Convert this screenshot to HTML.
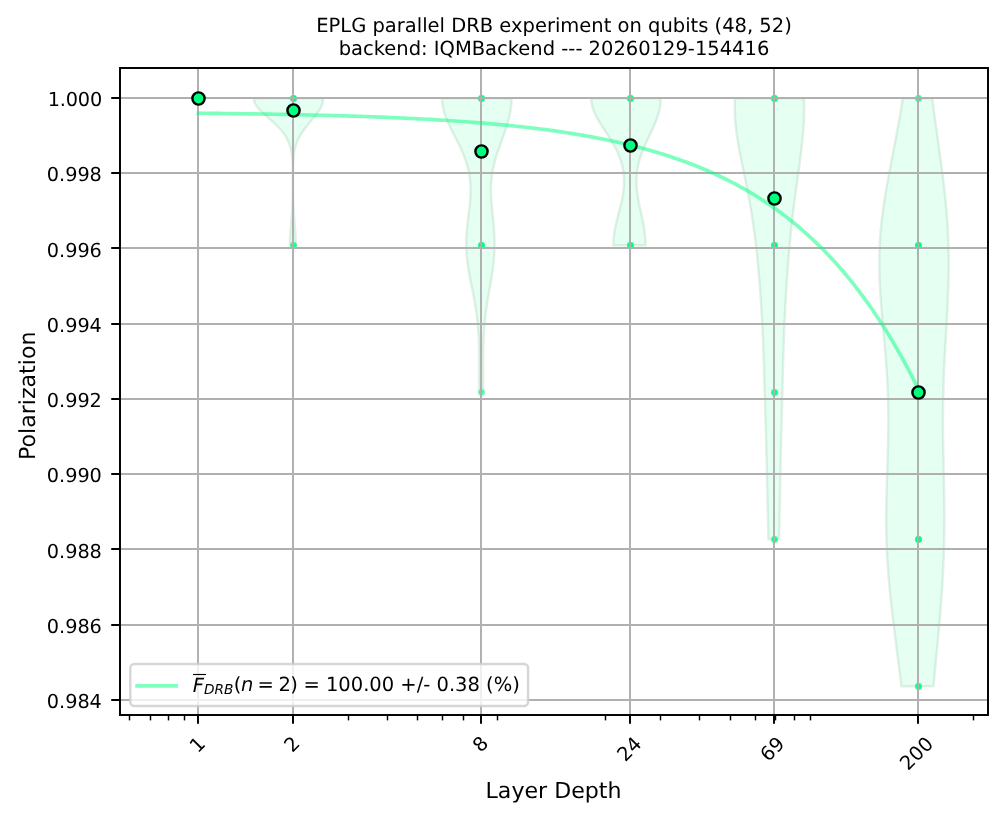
<!DOCTYPE html>
<html lang="en"><head><meta charset="utf-8"><title>EPLG parallel DRB experiment</title>
<style>html,body{margin:0;padding:0;background:#fff}svg{display:block}</style></head>
<body>
<svg width="1005" height="819" viewBox="0 0 1005 819" font-family='"DejaVu Sans", "Liberation Sans", sans-serif' font-size="19.5px" fill="#000" text-rendering="geometricPrecision" style="will-change:transform">
<rect x="0" y="0" width="1005" height="819" fill="#fff"/>
<defs><clipPath id="ax"><rect x="120.0" y="68.0" width="868.0" height="647.0"/></clipPath></defs>
<g clip-path="url(#ax)">
<path d="M253.79,98.30 L253.90,99.78 L254.23,101.27 L254.76,102.75 L255.50,104.24 L256.42,105.72 L257.51,107.21 L258.75,108.69 L260.12,110.18 L261.60,111.66 L263.16,113.15 L264.79,114.63 L266.46,116.12 L268.16,117.60 L269.86,119.09 L271.54,120.57 L273.19,122.06 L274.80,123.54 L276.36,125.03 L277.85,126.51 L279.27,128.00 L280.61,129.48 L281.86,130.97 L283.04,132.45 L284.13,133.94 L285.13,135.42 L286.05,136.91 L286.88,138.39 L287.64,139.88 L288.32,141.36 L288.93,142.85 L289.48,144.33 L289.96,145.82 L290.39,147.30 L290.76,148.78 L291.09,150.27 L291.37,151.75 L291.61,153.24 L291.82,154.72 L292.00,156.21 L292.15,157.69 L292.28,159.18 L292.38,160.66 L292.47,162.15 L292.55,163.63 L292.61,165.12 L292.66,166.60 L292.70,168.09 L292.73,169.57 L292.76,171.06 L292.78,172.54 L292.79,174.03 L292.80,175.51 L292.81,177.00 L292.81,178.48 L292.82,179.97 L292.82,181.45 L292.81,182.94 L292.81,184.42 L292.80,185.91 L292.79,187.39 L292.77,188.88 L292.76,190.36 L292.73,191.85 L292.71,193.33 L292.68,194.82 L292.65,196.30 L292.62,197.78 L292.58,199.27 L292.53,200.75 L292.48,202.24 L292.42,203.72 L292.36,205.21 L292.29,206.69 L292.21,208.18 L292.13,209.66 L292.04,211.15 L291.94,212.63 L291.84,214.12 L291.74,215.60 L291.63,217.09 L291.51,218.57 L291.39,220.06 L291.27,221.54 L291.14,223.03 L291.01,224.51 L290.89,226.00 L290.76,227.48 L290.64,228.97 L290.53,230.45 L290.42,231.94 L290.31,233.42 L290.22,234.91 L290.13,236.39 L290.06,237.88 L290.00,239.36 L289.95,240.85 L289.91,242.33 L289.89,243.82 L289.88,245.30 L295.79,245.30 L295.78,243.82 L295.76,242.33 L295.73,240.85 L295.68,239.36 L295.62,237.88 L295.55,236.39 L295.47,234.91 L295.37,233.42 L295.27,231.94 L295.17,230.45 L295.05,228.97 L294.94,227.48 L294.82,226.00 L294.70,224.51 L294.57,223.03 L294.45,221.54 L294.33,220.06 L294.21,218.57 L294.10,217.09 L293.99,215.60 L293.88,214.12 L293.78,212.63 L293.69,211.15 L293.60,209.66 L293.52,208.18 L293.44,206.69 L293.38,205.21 L293.31,203.72 L293.26,202.24 L293.20,200.75 L293.16,199.27 L293.12,197.78 L293.08,196.30 L293.05,194.82 L293.02,193.33 L293.00,191.85 L292.98,190.36 L292.96,188.88 L292.95,187.39 L292.94,185.91 L292.93,184.42 L292.92,182.94 L292.92,181.45 L292.92,179.97 L292.92,178.48 L292.92,177.00 L292.93,175.51 L292.94,174.03 L292.96,172.54 L292.98,171.06 L293.00,169.57 L293.04,168.09 L293.08,166.60 L293.13,165.12 L293.19,163.63 L293.26,162.15 L293.35,160.66 L293.46,159.18 L293.58,157.69 L293.73,156.21 L293.91,154.72 L294.11,153.24 L294.35,151.75 L294.63,150.27 L294.94,148.78 L295.30,147.30 L295.71,145.82 L296.17,144.33 L296.69,142.85 L297.26,141.36 L297.90,139.88 L298.60,138.39 L299.36,136.91 L300.19,135.42 L301.08,133.94 L302.03,132.45 L303.05,130.97 L304.11,129.48 L305.23,128.00 L306.39,126.51 L307.59,125.03 L308.81,123.54 L310.05,122.06 L311.30,120.57 L312.54,119.09 L313.76,117.60 L314.96,116.12 L316.12,114.63 L317.23,113.15 L318.27,111.66 L319.23,110.18 L320.11,108.69 L320.90,107.21 L321.58,105.72 L322.14,104.24 L322.59,102.75 L322.91,101.27 L323.11,99.78 L323.18,98.30 Z" fill="#00ff7f" fill-opacity="0.1" stroke="#55a268" stroke-opacity="0.16" stroke-width="2.44" stroke-linejoin="miter"/>
<path d="M442.09,98.30 L442.17,101.27 L442.46,104.24 L442.94,107.21 L443.61,110.18 L444.45,113.15 L445.44,116.12 L446.57,119.09 L447.83,122.06 L449.17,125.03 L450.60,128.00 L452.08,130.97 L453.59,133.94 L455.12,136.91 L456.64,139.88 L458.13,142.85 L459.58,145.82 L460.98,148.78 L462.31,151.75 L463.56,154.72 L464.72,157.69 L465.78,160.66 L466.74,163.63 L467.59,166.60 L468.34,169.57 L468.97,172.54 L469.50,175.51 L469.92,178.48 L470.24,181.45 L470.46,184.42 L470.58,187.39 L470.62,190.36 L470.57,193.33 L470.45,196.30 L470.27,199.27 L470.03,202.24 L469.74,205.21 L469.42,208.18 L469.07,211.15 L468.71,214.12 L468.34,217.09 L467.98,220.06 L467.63,223.03 L467.31,226.00 L467.02,228.97 L466.76,231.94 L466.56,234.91 L466.40,237.88 L466.31,240.85 L466.28,243.82 L466.31,246.78 L466.40,249.75 L466.56,252.72 L466.78,255.69 L467.06,258.66 L467.40,261.63 L467.79,264.60 L468.23,267.57 L468.72,270.54 L469.23,273.51 L469.78,276.48 L470.34,279.45 L470.93,282.42 L471.52,285.39 L472.11,288.36 L472.70,291.33 L473.28,294.30 L473.85,297.27 L474.39,300.24 L474.91,303.21 L475.41,306.18 L475.88,309.15 L476.31,312.12 L476.72,315.09 L477.09,318.06 L477.42,321.03 L477.72,324.00 L477.99,326.97 L478.22,329.94 L478.43,332.91 L478.60,335.88 L478.75,338.85 L478.87,341.82 L478.96,344.78 L479.04,347.75 L479.09,350.72 L479.13,353.69 L479.15,356.66 L479.16,359.63 L479.17,362.60 L479.16,365.57 L479.15,368.54 L479.14,371.51 L479.13,374.48 L479.11,377.45 L479.10,380.42 L479.09,383.39 L479.09,386.36 L479.09,389.33 L479.10,392.30 L483.19,392.30 L483.20,389.33 L483.20,386.36 L483.20,383.39 L483.19,380.42 L483.18,377.45 L483.17,374.48 L483.15,371.51 L483.14,368.54 L483.13,365.57 L483.13,362.60 L483.13,359.63 L483.14,356.66 L483.16,353.69 L483.20,350.72 L483.25,347.75 L483.33,344.78 L483.42,341.82 L483.53,338.85 L483.67,335.88 L483.84,332.91 L484.04,329.94 L484.26,326.97 L484.52,324.00 L484.80,321.03 L485.12,318.06 L485.47,315.09 L485.84,312.12 L486.25,309.15 L486.68,306.18 L487.13,303.21 L487.61,300.24 L488.10,297.27 L488.61,294.30 L489.13,291.33 L489.65,288.36 L490.17,285.39 L490.68,282.42 L491.18,279.45 L491.66,276.48 L492.13,273.51 L492.56,270.54 L492.96,267.57 L493.33,264.60 L493.65,261.63 L493.93,258.66 L494.16,255.69 L494.35,252.72 L494.47,249.75 L494.55,246.78 L494.58,243.82 L494.55,240.85 L494.47,237.88 L494.35,234.91 L494.18,231.94 L493.97,228.97 L493.73,226.00 L493.46,223.03 L493.17,220.06 L492.87,217.09 L492.56,214.12 L492.26,211.15 L491.97,208.18 L491.69,205.21 L491.45,202.24 L491.25,199.27 L491.09,196.30 L490.99,193.33 L490.95,190.36 L490.98,187.39 L491.08,184.42 L491.27,181.45 L491.54,178.48 L491.90,175.51 L492.34,172.54 L492.88,169.57 L493.50,166.60 L494.20,163.63 L494.98,160.66 L495.83,157.69 L496.74,154.72 L497.71,151.75 L498.73,148.78 L499.78,145.82 L500.85,142.85 L501.93,139.88 L503.01,136.91 L504.07,133.94 L505.10,130.97 L506.09,128.00 L507.03,125.03 L507.91,122.06 L508.70,119.09 L509.42,116.12 L510.03,113.15 L510.55,110.18 L510.95,107.21 L511.25,104.24 L511.42,101.27 L511.47,98.30 Z" fill="#00ff7f" fill-opacity="0.1" stroke="#55a268" stroke-opacity="0.16" stroke-width="2.44" stroke-linejoin="miter"/>
<path d="M591.31,98.30 L591.34,99.78 L591.45,101.27 L591.63,102.75 L591.89,104.24 L592.21,105.72 L592.60,107.21 L593.05,108.69 L593.57,110.18 L594.15,111.66 L594.78,113.15 L595.46,114.63 L596.20,116.12 L596.97,117.60 L597.79,119.09 L598.63,120.57 L599.51,122.06 L600.42,123.54 L601.34,125.03 L602.29,126.51 L603.24,128.00 L604.21,129.48 L605.18,130.97 L606.14,132.45 L607.11,133.94 L608.07,135.42 L609.02,136.91 L609.95,138.39 L610.87,139.88 L611.77,141.36 L612.65,142.85 L613.50,144.33 L614.33,145.82 L615.13,147.30 L615.90,148.78 L616.64,150.27 L617.35,151.75 L618.03,153.24 L618.67,154.72 L619.27,156.21 L619.84,157.69 L620.38,159.18 L620.87,160.66 L621.33,162.15 L621.76,163.63 L622.15,165.12 L622.50,166.60 L622.81,168.09 L623.09,169.57 L623.33,171.06 L623.54,172.54 L623.71,174.03 L623.85,175.51 L623.95,177.00 L624.02,178.48 L624.06,179.97 L624.07,181.45 L624.05,182.94 L623.99,184.42 L623.91,185.91 L623.80,187.39 L623.67,188.88 L623.50,190.36 L623.32,191.85 L623.10,193.33 L622.87,194.82 L622.62,196.30 L622.34,197.78 L622.05,199.27 L621.75,200.75 L621.42,202.24 L621.08,203.72 L620.74,205.21 L620.38,206.69 L620.01,208.18 L619.63,209.66 L619.25,211.15 L618.87,212.63 L618.49,214.12 L618.10,215.60 L617.72,217.09 L617.35,218.57 L616.98,220.06 L616.62,221.54 L616.27,223.03 L615.93,224.51 L615.60,226.00 L615.30,227.48 L615.01,228.97 L614.73,230.45 L614.48,231.94 L614.26,233.42 L614.05,234.91 L613.87,236.39 L613.72,237.88 L613.59,239.36 L613.50,240.85 L613.42,242.33 L613.38,243.82 L613.37,245.30 L645.50,245.30 L645.49,243.82 L645.45,242.33 L645.40,240.85 L645.32,239.36 L645.22,237.88 L645.10,236.39 L644.96,234.91 L644.79,233.42 L644.61,231.94 L644.41,230.45 L644.19,228.97 L643.96,227.48 L643.71,226.00 L643.44,224.51 L643.17,223.03 L642.88,221.54 L642.58,220.06 L642.27,218.57 L641.96,217.09 L641.64,215.60 L641.32,214.12 L640.99,212.63 L640.67,211.15 L640.34,209.66 L640.02,208.18 L639.70,206.69 L639.39,205.21 L639.08,203.72 L638.79,202.24 L638.50,200.75 L638.23,199.27 L637.97,197.78 L637.72,196.30 L637.50,194.82 L637.29,193.33 L637.10,191.85 L636.93,190.36 L636.78,188.88 L636.66,187.39 L636.56,185.91 L636.48,184.42 L636.43,182.94 L636.41,181.45 L636.42,179.97 L636.45,178.48 L636.52,177.00 L636.61,175.51 L636.74,174.03 L636.90,172.54 L637.08,171.06 L637.30,169.57 L637.55,168.09 L637.83,166.60 L638.15,165.12 L638.49,163.63 L638.86,162.15 L639.27,160.66 L639.70,159.18 L640.16,157.69 L640.65,156.21 L641.17,154.72 L641.71,153.24 L642.27,151.75 L642.86,150.27 L643.46,148.78 L644.09,147.30 L644.73,145.82 L645.39,144.33 L646.06,142.85 L646.75,141.36 L647.44,139.88 L648.14,138.39 L648.84,136.91 L649.54,135.42 L650.24,133.94 L650.94,132.45 L651.63,130.97 L652.32,129.48 L652.99,128.00 L653.65,126.51 L654.29,125.03 L654.91,123.54 L655.52,122.06 L656.10,120.57 L656.65,119.09 L657.17,117.60 L657.67,116.12 L658.13,114.63 L658.56,113.15 L658.96,111.66 L659.31,110.18 L659.63,108.69 L659.91,107.21 L660.15,105.72 L660.34,104.24 L660.49,102.75 L660.60,101.27 L660.67,99.78 L660.69,98.30 Z" fill="#00ff7f" fill-opacity="0.1" stroke="#55a268" stroke-opacity="0.16" stroke-width="2.44" stroke-linejoin="miter"/>
<path d="M735.00,98.30 L734.81,102.75 L734.75,107.21 L734.80,111.66 L734.97,116.12 L735.25,120.57 L735.64,125.03 L736.13,129.48 L736.70,133.94 L737.35,138.39 L738.07,142.85 L738.84,147.30 L739.67,151.75 L740.53,156.21 L741.42,160.66 L742.33,165.12 L743.25,169.57 L744.17,174.03 L745.09,178.48 L746.00,182.94 L746.89,187.39 L747.76,191.85 L748.61,196.30 L749.43,200.75 L750.22,205.21 L750.98,209.66 L751.71,214.12 L752.41,218.57 L753.08,223.03 L753.71,227.48 L754.32,231.94 L754.90,236.39 L755.45,240.85 L755.98,245.30 L756.48,249.75 L756.96,254.21 L757.42,258.66 L757.86,263.12 L758.28,267.57 L758.68,272.03 L759.07,276.48 L759.44,280.94 L759.79,285.39 L760.13,289.85 L760.46,294.30 L760.77,298.75 L761.06,303.21 L761.35,307.66 L761.62,312.12 L761.87,316.57 L762.12,321.03 L762.35,325.48 L762.57,329.94 L762.78,334.39 L762.97,338.85 L763.16,343.30 L763.33,347.75 L763.50,352.21 L763.66,356.66 L763.81,361.12 L763.96,365.57 L764.10,370.03 L764.23,374.48 L764.36,378.94 L764.49,383.39 L764.62,387.85 L764.74,392.30 L764.87,396.75 L764.99,401.21 L765.12,405.66 L765.24,410.12 L765.37,414.57 L765.49,419.03 L765.62,423.48 L765.74,427.94 L765.87,432.39 L765.99,436.85 L766.11,441.30 L766.23,445.75 L766.35,450.21 L766.47,454.66 L766.58,459.12 L766.69,463.57 L766.80,468.03 L766.91,472.48 L767.01,476.94 L767.11,481.39 L767.21,485.85 L767.31,490.30 L767.41,494.75 L767.50,499.21 L767.60,503.66 L767.69,508.12 L767.79,512.57 L767.89,517.03 L767.99,521.48 L768.09,525.94 L768.20,530.39 L768.31,534.85 L768.43,539.30 L779.01,539.30 L779.12,534.85 L779.22,530.39 L779.32,525.94 L779.41,521.48 L779.51,517.03 L779.60,512.57 L779.68,508.12 L779.77,503.66 L779.86,499.21 L779.95,494.75 L780.03,490.30 L780.12,485.85 L780.21,481.39 L780.30,476.94 L780.40,472.48 L780.49,468.03 L780.59,463.57 L780.69,459.12 L780.80,454.66 L780.90,450.21 L781.01,445.75 L781.11,441.30 L781.22,436.85 L781.33,432.39 L781.44,427.94 L781.56,423.48 L781.67,419.03 L781.78,414.57 L781.89,410.12 L782.00,405.66 L782.11,401.21 L782.22,396.75 L782.33,392.30 L782.44,387.85 L782.55,383.39 L782.66,378.94 L782.78,374.48 L782.90,370.03 L783.02,365.57 L783.14,361.12 L783.27,356.66 L783.41,352.21 L783.56,347.75 L783.71,343.30 L783.87,338.85 L784.03,334.39 L784.21,329.94 L784.40,325.48 L784.59,321.03 L784.80,316.57 L785.02,312.12 L785.24,307.66 L785.48,303.21 L785.73,298.75 L785.99,294.30 L786.26,289.85 L786.53,285.39 L786.83,280.94 L787.13,276.48 L787.44,272.03 L787.77,267.57 L788.10,263.12 L788.45,258.66 L788.82,254.21 L789.20,249.75 L789.59,245.30 L790.00,240.85 L790.43,236.39 L790.87,231.94 L791.33,227.48 L791.81,223.03 L792.31,218.57 L792.83,214.12 L793.37,209.66 L793.92,205.21 L794.49,200.75 L795.08,196.30 L795.67,191.85 L796.28,187.39 L796.90,182.94 L797.52,178.48 L798.14,174.03 L798.76,169.57 L799.37,165.12 L799.96,160.66 L800.54,156.21 L801.09,151.75 L801.61,147.30 L802.10,142.85 L802.54,138.39 L802.94,133.94 L803.29,129.48 L803.59,125.03 L803.82,120.57 L803.99,116.12 L804.10,111.66 L804.13,107.21 L804.09,102.75 L803.98,98.30 Z" fill="#00ff7f" fill-opacity="0.1" stroke="#55a268" stroke-opacity="0.16" stroke-width="2.44" stroke-linejoin="miter"/>
<path d="M902.88,98.30 L901.93,104.24 L900.94,110.18 L899.92,116.12 L898.88,122.06 L897.80,128.00 L896.70,133.94 L895.58,139.88 L894.45,145.82 L893.30,151.75 L892.15,157.69 L891.01,163.63 L889.87,169.57 L888.75,175.51 L887.66,181.45 L886.60,187.39 L885.59,193.33 L884.63,199.27 L883.73,205.21 L882.89,211.15 L882.13,217.09 L881.45,223.03 L880.86,228.97 L880.36,234.91 L879.96,240.85 L879.65,246.78 L879.44,252.72 L879.32,258.66 L879.29,264.60 L879.36,270.54 L879.50,276.48 L879.73,282.42 L880.03,288.36 L880.38,294.30 L880.80,300.24 L881.26,306.18 L881.75,312.12 L882.27,318.06 L882.81,324.00 L883.35,329.94 L883.90,335.88 L884.44,341.82 L884.96,347.75 L885.46,353.69 L885.93,359.63 L886.37,365.57 L886.77,371.51 L887.13,377.45 L887.44,383.39 L887.71,389.33 L887.93,395.27 L888.10,401.21 L888.23,407.15 L888.31,413.09 L888.34,419.03 L888.33,424.97 L888.28,430.91 L888.19,436.85 L888.08,442.78 L887.93,448.72 L887.77,454.66 L887.59,460.60 L887.39,466.54 L887.20,472.48 L887.00,478.42 L886.82,484.36 L886.65,490.30 L886.49,496.24 L886.37,502.18 L886.28,508.12 L886.22,514.06 L886.21,520.00 L886.24,525.94 L886.32,531.88 L886.45,537.82 L886.63,543.75 L886.87,549.69 L887.16,555.63 L887.50,561.57 L887.89,567.51 L888.33,573.45 L888.82,579.39 L889.35,585.33 L889.92,591.27 L890.52,597.21 L891.16,603.15 L891.82,609.09 L892.51,615.03 L893.22,620.97 L893.95,626.91 L894.69,632.85 L895.43,638.78 L896.19,644.72 L896.95,650.66 L897.71,656.60 L898.47,662.54 L899.23,668.48 L899.98,674.42 L900.73,680.36 L901.47,686.30 L933.39,686.30 L933.98,680.36 L934.56,674.42 L935.14,668.48 L935.72,662.54 L936.29,656.60 L936.86,650.66 L937.43,644.72 L937.98,638.78 L938.53,632.85 L939.06,626.91 L939.58,620.97 L940.08,615.03 L940.56,609.09 L941.02,603.15 L941.46,597.21 L941.88,591.27 L942.27,585.33 L942.62,579.39 L942.95,573.45 L943.24,567.51 L943.50,561.57 L943.73,555.63 L943.92,549.69 L944.07,543.75 L944.19,537.82 L944.28,531.88 L944.33,525.94 L944.35,520.00 L944.34,514.06 L944.31,508.12 L944.24,502.18 L944.16,496.24 L944.06,490.30 L943.95,484.36 L943.83,478.42 L943.70,472.48 L943.57,466.54 L943.45,460.60 L943.32,454.66 L943.21,448.72 L943.12,442.78 L943.04,436.85 L942.98,430.91 L942.95,424.97 L942.94,419.03 L942.97,413.09 L943.02,407.15 L943.10,401.21 L943.22,395.27 L943.36,389.33 L943.54,383.39 L943.75,377.45 L943.98,371.51 L944.25,365.57 L944.53,359.63 L944.84,353.69 L945.16,347.75 L945.49,341.82 L945.84,335.88 L946.18,329.94 L946.52,324.00 L946.86,318.06 L947.18,312.12 L947.48,306.18 L947.76,300.24 L948.02,294.30 L948.23,288.36 L948.41,282.42 L948.55,276.48 L948.64,270.54 L948.68,264.60 L948.66,258.66 L948.59,252.72 L948.46,246.78 L948.27,240.85 L948.03,234.91 L947.72,228.97 L947.36,223.03 L946.94,217.09 L946.47,211.15 L945.94,205.21 L945.37,199.27 L944.75,193.33 L944.09,187.39 L943.40,181.45 L942.67,175.51 L941.91,169.57 L941.13,163.63 L940.33,157.69 L939.52,151.75 L938.70,145.82 L937.87,139.88 L937.05,133.94 L936.23,128.00 L935.41,122.06 L934.60,116.12 L933.81,110.18 L933.03,104.24 L932.27,98.30 Z" fill="#00ff7f" fill-opacity="0.1" stroke="#55a268" stroke-opacity="0.16" stroke-width="2.44" stroke-linejoin="miter"/>
<circle cx="198.50" cy="98.50" r="2.25" fill="#00ff7f" fill-opacity="1.000" stroke="#00ff7f" stroke-opacity="1.000" stroke-width="2.44"/>
<circle cx="293.50" cy="98.50" r="2.25" fill="#00ff7f" fill-opacity="1.000" stroke="#00ff7f" stroke-opacity="1.000" stroke-width="2.44"/>
<circle cx="293.50" cy="245.50" r="2.25" fill="#00ff7f" fill-opacity="0.750" stroke="#00ff7f" stroke-opacity="0.750" stroke-width="2.44"/>
<circle cx="481.50" cy="98.50" r="2.25" fill="#00ff7f" fill-opacity="1.000" stroke="#00ff7f" stroke-opacity="1.000" stroke-width="2.44"/>
<circle cx="481.50" cy="245.50" r="2.25" fill="#00ff7f" fill-opacity="0.992" stroke="#00ff7f" stroke-opacity="0.992" stroke-width="2.44"/>
<circle cx="481.50" cy="392.50" r="2.25" fill="#00ff7f" fill-opacity="0.500" stroke="#00ff7f" stroke-opacity="0.500" stroke-width="2.44"/>
<circle cx="630.50" cy="98.50" r="2.25" fill="#00ff7f" fill-opacity="1.000" stroke="#00ff7f" stroke-opacity="1.000" stroke-width="2.44"/>
<circle cx="630.50" cy="245.50" r="2.25" fill="#00ff7f" fill-opacity="0.996" stroke="#00ff7f" stroke-opacity="0.996" stroke-width="2.44"/>
<circle cx="774.50" cy="98.50" r="2.25" fill="#00ff7f" fill-opacity="1.000" stroke="#00ff7f" stroke-opacity="1.000" stroke-width="2.44"/>
<circle cx="774.50" cy="245.50" r="2.25" fill="#00ff7f" fill-opacity="0.969" stroke="#00ff7f" stroke-opacity="0.969" stroke-width="2.44"/>
<circle cx="774.50" cy="392.50" r="2.25" fill="#00ff7f" fill-opacity="0.875" stroke="#00ff7f" stroke-opacity="0.875" stroke-width="2.44"/>
<circle cx="774.50" cy="539.50" r="2.25" fill="#00ff7f" fill-opacity="0.750" stroke="#00ff7f" stroke-opacity="0.750" stroke-width="2.44"/>
<circle cx="918.50" cy="98.50" r="2.25" fill="#00ff7f" fill-opacity="0.750" stroke="#00ff7f" stroke-opacity="0.750" stroke-width="2.44"/>
<circle cx="918.50" cy="245.50" r="2.25" fill="#00ff7f" fill-opacity="0.998" stroke="#00ff7f" stroke-opacity="0.998" stroke-width="2.44"/>
<circle cx="918.50" cy="392.50" r="2.25" fill="#00ff7f" fill-opacity="0.938" stroke="#00ff7f" stroke-opacity="0.938" stroke-width="2.44"/>
<circle cx="918.50" cy="539.50" r="2.25" fill="#00ff7f" fill-opacity="0.992" stroke="#00ff7f" stroke-opacity="0.992" stroke-width="2.44"/>
<circle cx="918.50" cy="686.50" r="2.25" fill="#00ff7f" fill-opacity="0.875" stroke="#00ff7f" stroke-opacity="0.875" stroke-width="2.44"/>
<line x1="198" y1="68.0" x2="198" y2="715.0" stroke="#b0b0b0" stroke-width="1.96"/>
<line x1="293" y1="68.0" x2="293" y2="715.0" stroke="#b0b0b0" stroke-width="1.96"/>
<line x1="481" y1="68.0" x2="481" y2="715.0" stroke="#b0b0b0" stroke-width="1.96"/>
<line x1="630" y1="68.0" x2="630" y2="715.0" stroke="#b0b0b0" stroke-width="1.96"/>
<line x1="774" y1="68.0" x2="774" y2="715.0" stroke="#b0b0b0" stroke-width="1.96"/>
<line x1="918" y1="68.0" x2="918" y2="715.0" stroke="#b0b0b0" stroke-width="1.96"/>
<line x1="120.0" y1="98" x2="988.0" y2="98" stroke="#b0b0b0" stroke-width="1.96"/>
<line x1="120.0" y1="173" x2="988.0" y2="173" stroke="#b0b0b0" stroke-width="1.96"/>
<line x1="120.0" y1="248" x2="988.0" y2="248" stroke="#b0b0b0" stroke-width="1.96"/>
<line x1="120.0" y1="324" x2="988.0" y2="324" stroke="#b0b0b0" stroke-width="1.96"/>
<line x1="120.0" y1="399" x2="988.0" y2="399" stroke="#b0b0b0" stroke-width="1.96"/>
<line x1="120.0" y1="474" x2="988.0" y2="474" stroke="#b0b0b0" stroke-width="1.96"/>
<line x1="120.0" y1="549" x2="988.0" y2="549" stroke="#b0b0b0" stroke-width="1.96"/>
<line x1="120.0" y1="625" x2="988.0" y2="625" stroke="#b0b0b0" stroke-width="1.96"/>
<line x1="120.0" y1="700" x2="988.0" y2="700" stroke="#b0b0b0" stroke-width="1.96"/>
<path d="M198.42,113.19 L202.04,113.23 L205.65,113.26 L209.27,113.30 L212.89,113.34 L216.50,113.39 L220.12,113.43 L223.73,113.47 L227.35,113.52 L230.97,113.56 L234.58,113.61 L238.20,113.66 L241.82,113.71 L245.43,113.76 L249.05,113.82 L252.66,113.87 L256.28,113.93 L259.90,113.98 L263.51,114.04 L267.13,114.10 L270.75,114.16 L274.36,114.23 L277.98,114.29 L281.60,114.36 L285.21,114.43 L288.83,114.50 L292.44,114.57 L296.06,114.65 L299.68,114.73 L303.29,114.80 L306.91,114.89 L310.53,114.97 L314.14,115.05 L317.76,115.14 L321.37,115.23 L324.99,115.33 L328.61,115.42 L332.22,115.52 L335.84,115.62 L339.46,115.72 L343.07,115.83 L346.69,115.94 L350.31,116.05 L353.92,116.16 L357.54,116.28 L361.15,116.40 L364.77,116.53 L368.39,116.65 L372.00,116.78 L375.62,116.92 L379.24,117.06 L382.85,117.20 L386.47,117.34 L390.08,117.49 L393.70,117.65 L397.32,117.81 L400.93,117.97 L404.55,118.13 L408.17,118.30 L411.78,118.48 L415.40,118.66 L419.02,118.85 L422.63,119.04 L426.25,119.23 L429.86,119.43 L433.48,119.64 L437.10,119.85 L440.71,120.07 L444.33,120.29 L447.95,120.52 L451.56,120.75 L455.18,120.99 L458.79,121.24 L462.41,121.50 L466.03,121.76 L469.64,122.03 L473.26,122.30 L476.88,122.59 L480.49,122.88 L484.11,123.18 L487.73,123.48 L491.34,123.80 L494.96,124.12 L498.57,124.46 L502.19,124.80 L505.81,125.15 L509.42,125.51 L513.04,125.88 L516.66,126.26 L520.27,126.65 L523.89,127.05 L527.50,127.46 L531.12,127.88 L534.74,128.32 L538.35,128.76 L541.97,129.22 L545.59,129.69 L549.20,130.17 L552.82,130.67 L556.44,131.18 L560.05,131.70 L563.67,132.24 L567.28,132.79 L570.90,133.35 L574.52,133.93 L578.13,134.53 L581.75,135.14 L585.37,135.77 L588.98,136.42 L592.60,137.08 L596.21,137.77 L599.83,138.47 L603.45,139.19 L607.06,139.93 L610.68,140.68 L614.30,141.46 L617.91,142.26 L621.53,143.08 L625.15,143.93 L628.76,144.79 L632.38,145.68 L635.99,146.60 L639.61,147.54 L643.23,148.50 L646.84,149.49 L650.46,150.51 L654.08,151.55 L657.69,152.62 L661.31,153.72 L664.92,154.85 L668.54,156.02 L672.16,157.21 L675.77,158.43 L679.39,159.69 L683.01,160.98 L686.62,162.31 L690.24,163.67 L693.86,165.07 L697.47,166.50 L701.09,167.98 L704.70,169.49 L708.32,171.05 L711.94,172.65 L715.55,174.29 L719.17,175.97 L722.79,177.70 L726.40,179.48 L730.02,181.30 L733.63,183.18 L737.25,185.10 L740.87,187.08 L744.48,189.11 L748.10,191.19 L751.72,193.33 L755.33,195.53 L758.95,197.78 L762.57,200.10 L766.18,202.48 L769.80,204.92 L773.41,207.43 L777.03,210.01 L780.65,212.66 L784.26,215.38 L787.88,218.17 L791.50,221.03 L795.11,223.97 L798.73,227.00 L802.34,230.10 L805.96,233.29 L809.58,236.56 L813.19,239.92 L816.81,243.37 L820.43,246.91 L824.04,250.55 L827.66,254.29 L831.28,258.13 L834.89,262.07 L838.51,266.11 L842.12,270.27 L845.74,274.54 L849.36,278.92 L852.97,283.42 L856.59,288.04 L860.21,292.78 L863.82,297.65 L867.44,302.65 L871.06,307.79 L874.67,313.06 L878.29,318.48 L881.90,324.04 L885.52,329.75 L889.14,335.61 L892.75,341.63 L896.37,347.82 L899.99,354.16 L903.60,360.68 L907.22,367.37 L910.83,374.25 L914.45,381.30 L918.07,388.55" fill="none" stroke="#00ff7f" stroke-opacity="0.5" stroke-width="3.67" stroke-linecap="square" stroke-linejoin="round"/>
<circle cx="198.50" cy="98.50" r="6.1" fill="#00ff7f" stroke="#000" stroke-width="2.44"/>
<circle cx="293.50" cy="110.50" r="6.1" fill="#00ff7f" stroke="#000" stroke-width="2.44"/>
<circle cx="481.50" cy="151.50" r="6.1" fill="#00ff7f" stroke="#000" stroke-width="2.44"/>
<circle cx="630.50" cy="145.50" r="6.1" fill="#00ff7f" stroke="#000" stroke-width="2.44"/>
<circle cx="774.50" cy="198.50" r="6.1" fill="#00ff7f" stroke="#000" stroke-width="2.44"/>
<circle cx="918.50" cy="392.50" r="6.1" fill="#00ff7f" stroke="#000" stroke-width="2.44"/>
</g>
<line x1="198" y1="715.0" x2="198" y2="723.80" stroke="#000" stroke-width="1.96"/>
<line x1="293" y1="715.0" x2="293" y2="723.80" stroke="#000" stroke-width="1.96"/>
<line x1="481" y1="715.0" x2="481" y2="723.80" stroke="#000" stroke-width="1.96"/>
<line x1="630" y1="715.0" x2="630" y2="723.80" stroke="#000" stroke-width="1.96"/>
<line x1="774" y1="715.0" x2="774" y2="723.80" stroke="#000" stroke-width="1.96"/>
<line x1="918" y1="715.0" x2="918" y2="723.80" stroke="#000" stroke-width="1.96"/>
<line x1="129.5" y1="715.0" x2="129.5" y2="720.40" stroke="#000" stroke-width="1.47"/>
<line x1="150.5" y1="715.0" x2="150.5" y2="720.40" stroke="#000" stroke-width="1.47"/>
<line x1="168.5" y1="715.0" x2="168.5" y2="720.40" stroke="#000" stroke-width="1.47"/>
<line x1="184.5" y1="715.0" x2="184.5" y2="720.40" stroke="#000" stroke-width="1.47"/>
<line x1="348.5" y1="715.0" x2="348.5" y2="720.40" stroke="#000" stroke-width="1.47"/>
<line x1="387.5" y1="715.0" x2="387.5" y2="720.40" stroke="#000" stroke-width="1.47"/>
<line x1="417.5" y1="715.0" x2="417.5" y2="720.40" stroke="#000" stroke-width="1.47"/>
<line x1="442.5" y1="715.0" x2="442.5" y2="720.40" stroke="#000" stroke-width="1.47"/>
<line x1="463.5" y1="715.0" x2="463.5" y2="720.40" stroke="#000" stroke-width="1.47"/>
<line x1="497.5" y1="715.0" x2="497.5" y2="720.40" stroke="#000" stroke-width="1.47"/>
<line x1="605.5" y1="715.0" x2="605.5" y2="720.40" stroke="#000" stroke-width="1.47"/>
<line x1="660.5" y1="715.0" x2="660.5" y2="720.40" stroke="#000" stroke-width="1.47"/>
<line x1="699.5" y1="715.0" x2="699.5" y2="720.40" stroke="#000" stroke-width="1.47"/>
<line x1="730.5" y1="715.0" x2="730.5" y2="720.40" stroke="#000" stroke-width="1.47"/>
<line x1="755.5" y1="715.0" x2="755.5" y2="720.40" stroke="#000" stroke-width="1.47"/>
<line x1="775.5" y1="715.0" x2="775.5" y2="720.40" stroke="#000" stroke-width="1.47"/>
<line x1="794.5" y1="715.0" x2="794.5" y2="720.40" stroke="#000" stroke-width="1.47"/>
<line x1="810.5" y1="715.0" x2="810.5" y2="720.40" stroke="#000" stroke-width="1.47"/>
<line x1="973.5" y1="715.0" x2="973.5" y2="720.40" stroke="#000" stroke-width="1.47"/>
<line x1="111.20" y1="98" x2="120.0" y2="98" stroke="#000" stroke-width="1.96"/>
<line x1="111.20" y1="173" x2="120.0" y2="173" stroke="#000" stroke-width="1.96"/>
<line x1="111.20" y1="248" x2="120.0" y2="248" stroke="#000" stroke-width="1.96"/>
<line x1="111.20" y1="324" x2="120.0" y2="324" stroke="#000" stroke-width="1.96"/>
<line x1="111.20" y1="399" x2="120.0" y2="399" stroke="#000" stroke-width="1.96"/>
<line x1="111.20" y1="474" x2="120.0" y2="474" stroke="#000" stroke-width="1.96"/>
<line x1="111.20" y1="549" x2="120.0" y2="549" stroke="#000" stroke-width="1.96"/>
<line x1="111.20" y1="625" x2="120.0" y2="625" stroke="#000" stroke-width="1.96"/>
<line x1="111.20" y1="700" x2="120.0" y2="700" stroke="#000" stroke-width="1.96"/>
<rect x="120.0" y="68.0" width="868.0" height="647.0" fill="none" stroke="#000" stroke-width="1.96" stroke-linejoin="miter"/>
<text x="102.0" y="105.90" text-anchor="end" font-size="19.3px" letter-spacing="-0.2">1.000</text>
<text x="101.85" y="180.90" text-anchor="end" font-size="19.3px" letter-spacing="-0.04">0.998</text>
<text x="101.85" y="256.90" text-anchor="end" font-size="19.3px" letter-spacing="-0.04">0.996</text>
<text x="101.85" y="331.90" text-anchor="end" font-size="19.3px" letter-spacing="-0.04">0.994</text>
<text x="101.85" y="406.90" text-anchor="end" font-size="19.3px" letter-spacing="-0.04">0.992</text>
<text x="101.85" y="481.90" text-anchor="end" font-size="19.3px" letter-spacing="-0.04">0.990</text>
<text x="101.85" y="557.90" text-anchor="end" font-size="19.3px" letter-spacing="-0.04">0.988</text>
<text x="101.85" y="632.90" text-anchor="end" font-size="19.3px" letter-spacing="-0.04">0.986</text>
<text x="101.85" y="707.90" text-anchor="end" font-size="19.3px" letter-spacing="-0.04">0.984</text>
<text transform="translate(197.81,753.72) rotate(-45)" x="0" y="0">1</text>
<text transform="translate(292.21,753.27) rotate(-45)" x="0" y="0">2</text>
<text transform="translate(480.71,753.17) rotate(-45)" x="0" y="0">8</text>
<text transform="translate(625.13,762.54) rotate(-45)" x="0" y="0">24</text>
<text transform="translate(768.33,762.54) rotate(-45)" x="0" y="0">69</text>
<text transform="translate(908.09,771.31) rotate(-45)" x="0" y="0">200</text>
<text x="553.5" y="797.6" text-anchor="middle" font-size="22.1px">Layer Depth</text>
<text transform="translate(34.9,395.8) rotate(-90)" text-anchor="middle" font-size="22.1px">Polarization</text>
<text x="554" y="31.85" text-anchor="middle">EPLG parallel DRB experiment on qubits (48, 52)</text>
<text x="554" y="54.8" text-anchor="middle">backend: IQMBackend --- 20260129-154416</text>
<rect x="130.3" y="664.0" width="397.75" height="42.00" rx="3.9" ry="3.9" fill="#fff" fill-opacity="0.8" stroke="#cccccc" stroke-opacity="0.8" stroke-width="2.44"/>
<line x1="137.1" y1="685.9" x2="176.1" y2="685.9" stroke="#00ff7f" stroke-opacity="0.5" stroke-width="3.67" stroke-linecap="square"/>
<line x1="193.0" y1="674.5" x2="206.0" y2="674.5" stroke="#000" stroke-width="1.15"/>
<text x="192.8" y="691.5999999999999" font-style="oblique">F</text>
<text x="204.0" y="694.3" font-style="oblique" font-size="13.65px">D</text>
<text x="214.5" y="694.3" font-style="oblique" font-size="13.65px">R</text>
<text x="223.9" y="694.3" font-style="oblique" font-size="13.65px">B</text>
<text x="233.8" y="691.3">(</text>
<text x="241.0" y="691.3" font-style="oblique">n</text>
<text x="257.5" y="691.3">=</text>
<text x="278.5" y="691.3">2</text>
<text x="290.3" y="691.3">)</text>
<text x="303.4" y="691.3" xml:space="preserve">= 100.00 +/- 0.38 (%)</text>
</svg>
</body></html>
